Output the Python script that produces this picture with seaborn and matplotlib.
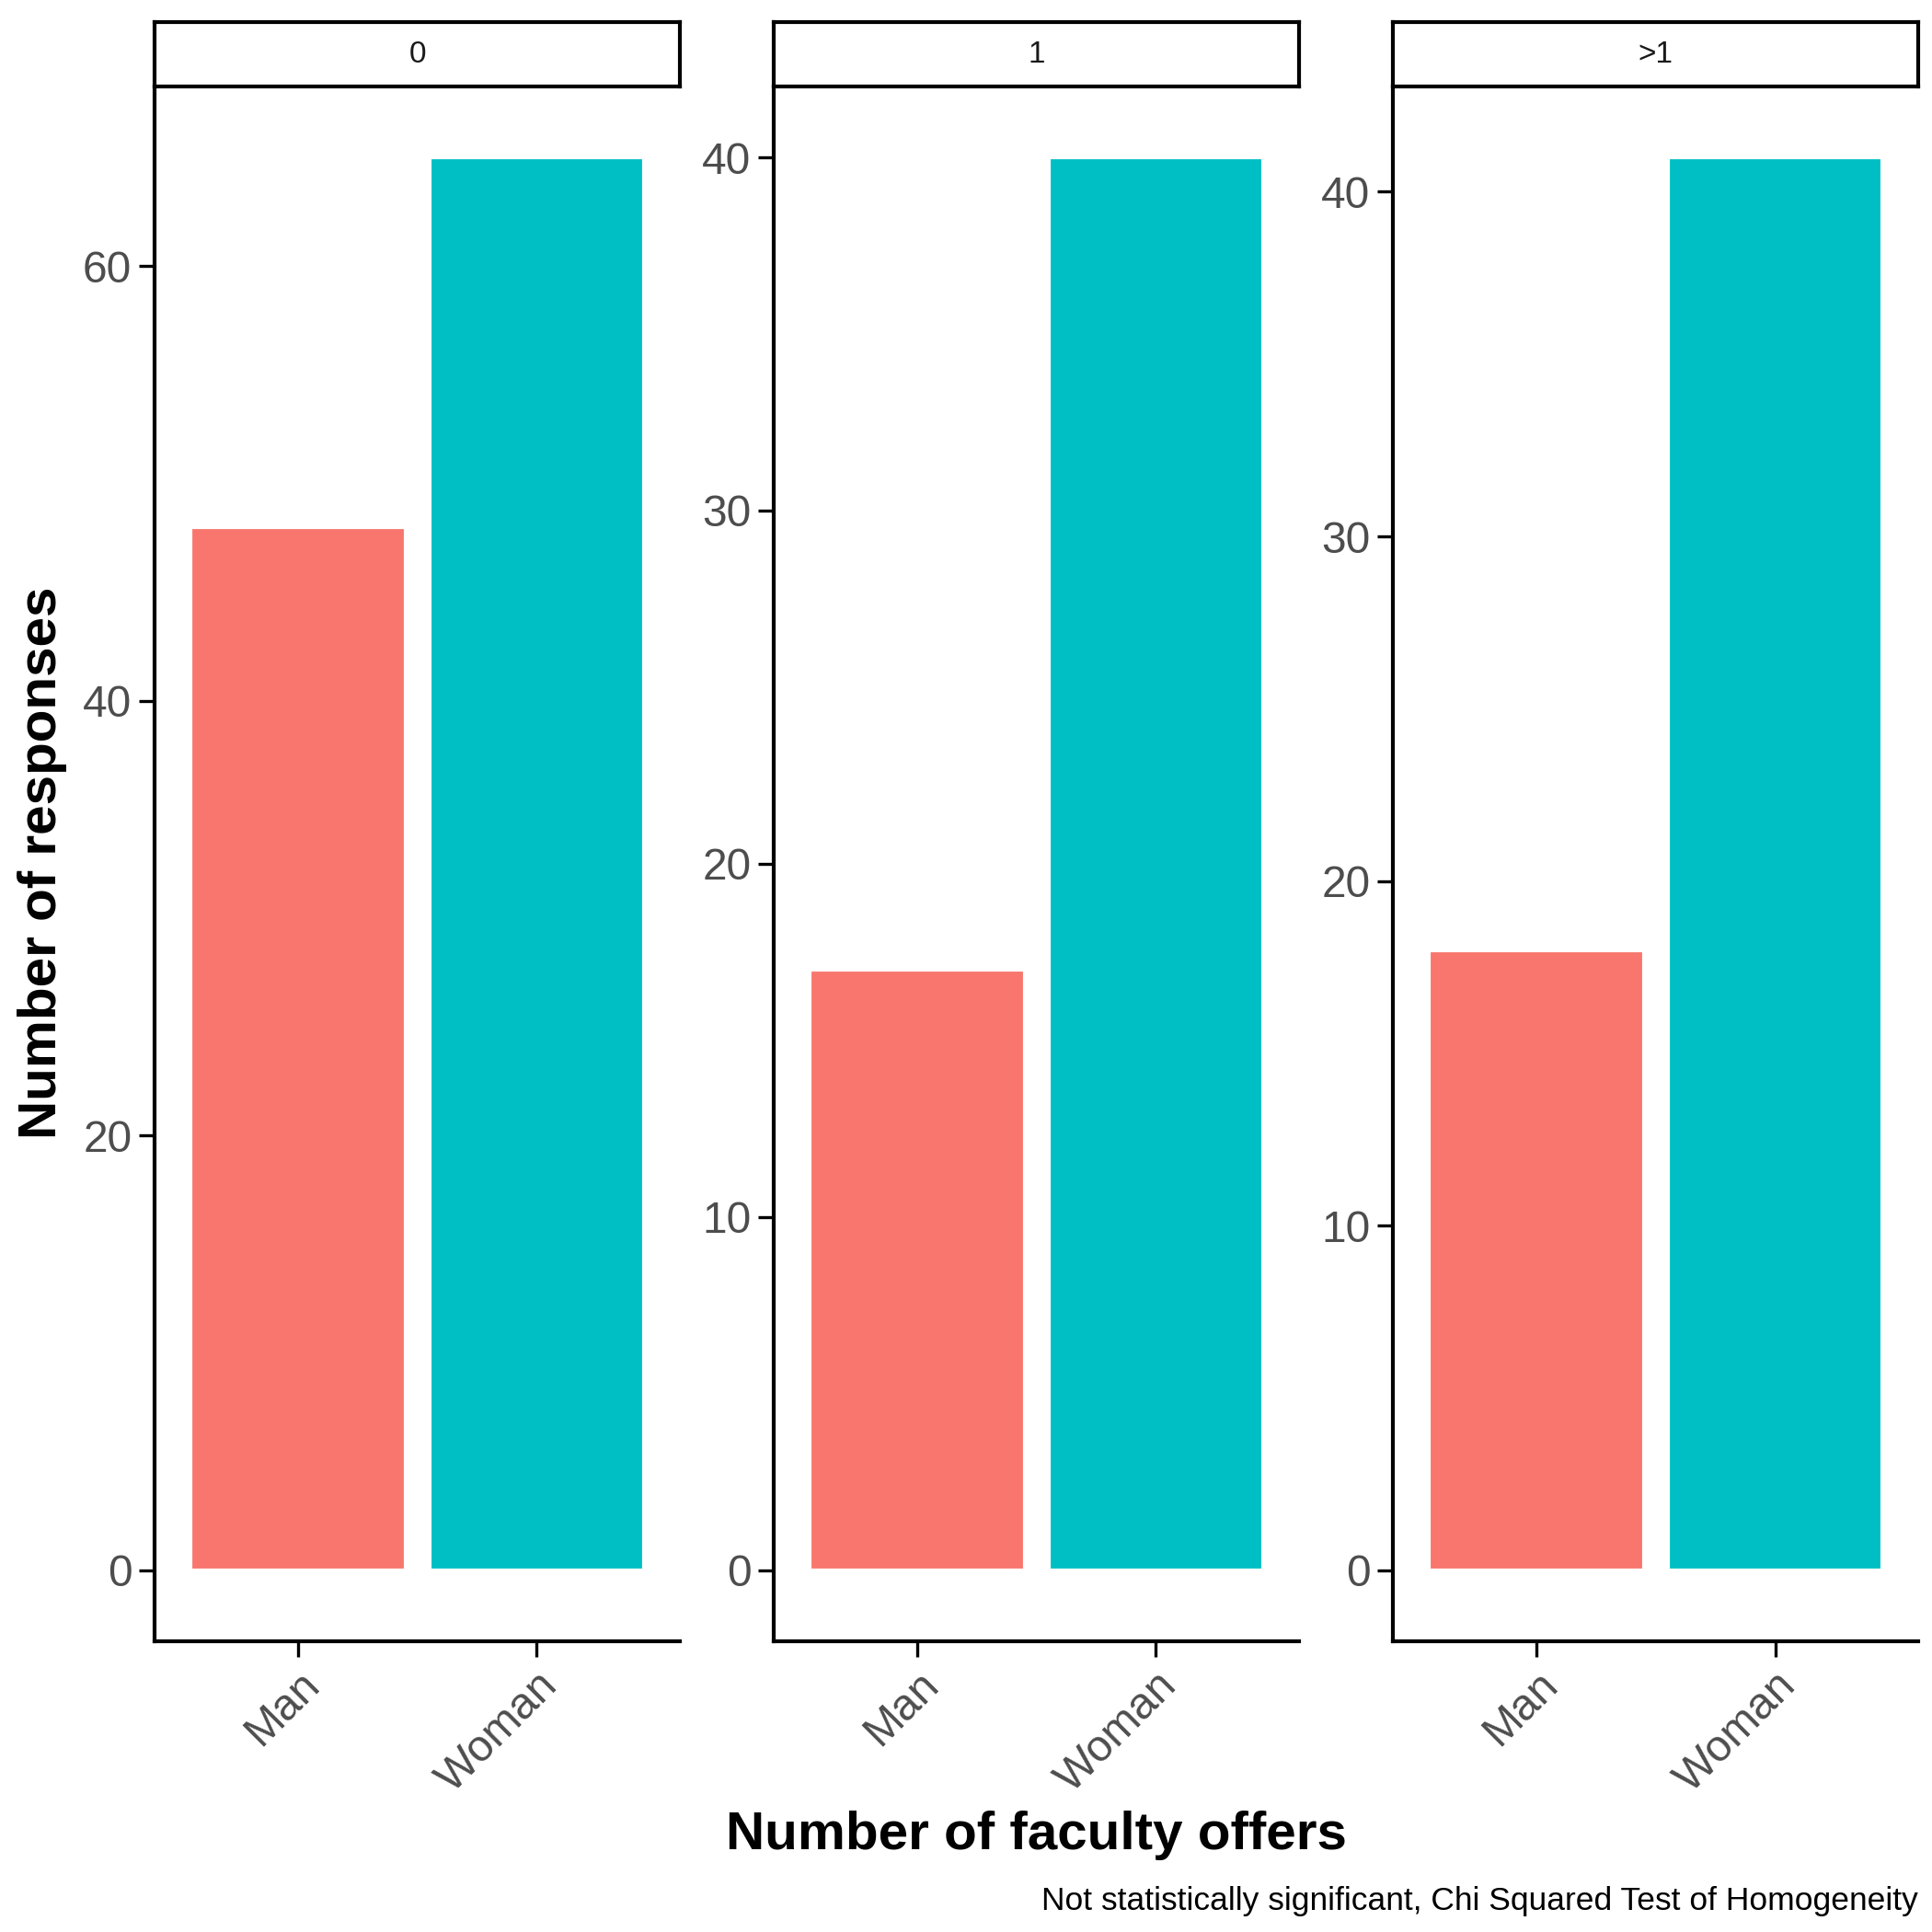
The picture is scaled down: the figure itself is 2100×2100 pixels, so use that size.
import matplotlib
matplotlib.use("Agg")
import matplotlib.pyplot as plt
from matplotlib.ticker import MultipleLocator
import seaborn as sns
import pandas as pd

panels = ["0", "1", ">1"]
genders = ["Man", "Woman"]
man_counts = [48, 17, 18]
woman_counts = [65, 40, 41]
tick_steps = [20, 10, 10]
colors = ["#F8766D", "#00BFC4"]

sns.set_style("white")
plt.rcParams['font.family'] = ['Liberation Sans', 'DejaVu Sans']

fig = plt.figure(figsize=(7, 7), dpi=300)
lefts = [125/1560, 625/1560, 1125/1560]
w = 424/1560
bottom = 1 - 1325/1560
h = (1325-70)/1560
sh = 52/1560
for i, p in enumerate(panels):
    ax = fig.add_axes([lefts[i], bottom, w, h])
    df = pd.DataFrame({"g": genders, "n": [man_counts[i], woman_counts[i]]})
    sns.barplot(data=df, x="g", y="n", hue="g", palette=colors, width=0.9,
                dodge=False, legend=False, ax=ax, saturation=1)
    mx = max(man_counts[i], woman_counts[i])
    ax.set_ylim(-0.05*mx, 1.05*mx)
    ax.set_xlim(-0.6, 1.6)
    ax.yaxis.set_major_locator(MultipleLocator(tick_steps[i]))
    ax.set_xlabel(""); ax.set_ylabel("")
    for s in ["top", "right"]:
        ax.spines[s].set_visible(False)
    for s in ["left", "bottom"]:
        ax.spines[s].set_color("black"); ax.spines[s].set_linewidth(1.0)
    ax.tick_params(axis='both', which='both', length=4, width=0.8, color='black',
                   labelsize=11.5, labelcolor='#4D4D4D', left=True, bottom=True, pad=2)
    plt.setp(ax.get_xticklabels(), rotation=45, ha='right', rotation_mode='anchor')
    sax = fig.add_axes([lefts[i], 1 - 70/1560, w, sh])
    sax.set_xticks([]); sax.set_yticks([])
    for s in sax.spines.values():
        s.set_color("black"); s.set_linewidth(1.0)
    sax.text(0.5, 0.5, p, ha='center', va='center', fontsize=8, color='#1A1A1A')

fig.text(34/1560, 1 - 697/1560, "Number of responses", rotation=90, ha='center', va='center',
         fontsize=14, fontweight='bold', color='black')
fig.text(837/1560, 1 - 1482/1560, "Number of faculty offers", ha='center', va='center',
         fontsize=14, fontweight='bold', color='black')
fig.text(1549/1560, 1 - 1535/1560, "Not statistically significant, Chi Squared Test of Homogeneity",
         ha='right', va='center', fontsize=8.5, color='black')
fig.savefig("out.png", dpi=300)
